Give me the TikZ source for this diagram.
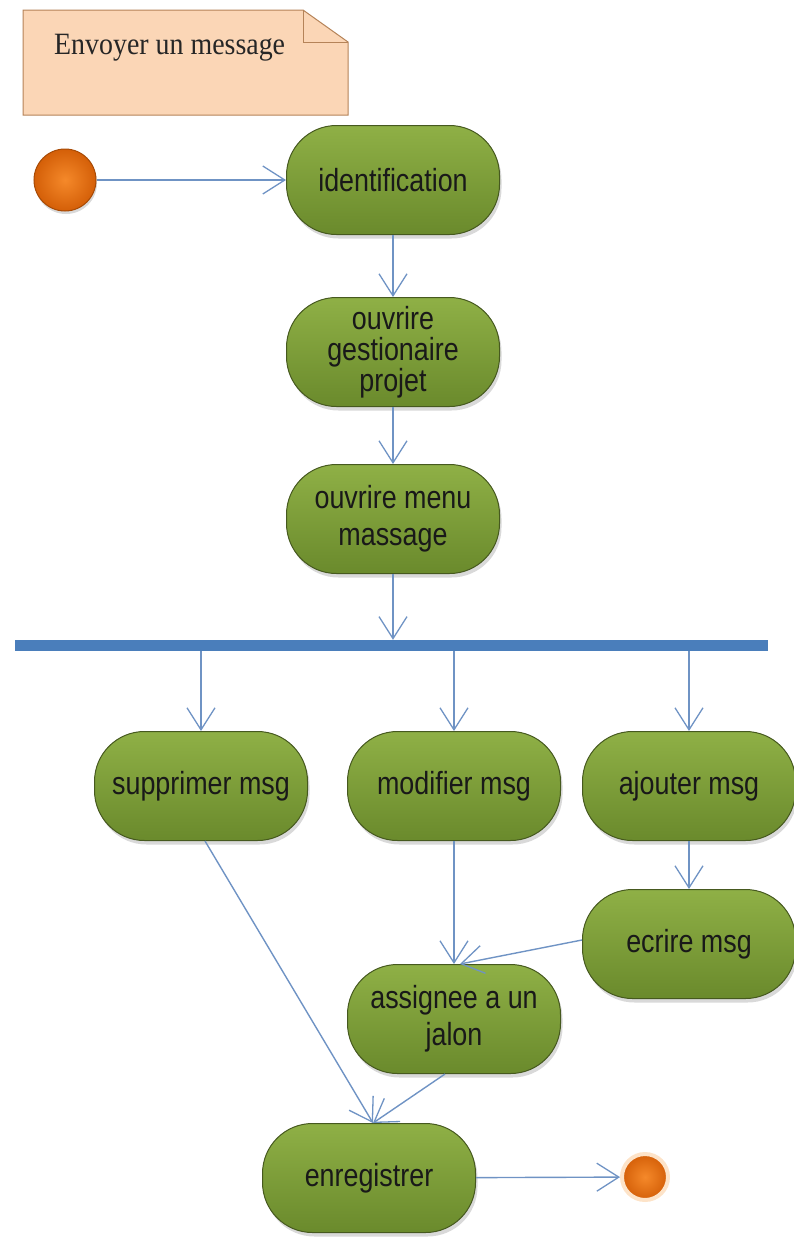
\documentclass[tikz,border=0pt]{standalone}
\usepackage{fontspec}
\setmainfont{Liberation Sans}
\newfontfamily\notefont{Liberation Serif}[FakeStretch=0.9]
\newfontfamily\actfont{Liberation Sans}[FakeStretch=0.84]
\usetikzlibrary{arrows.meta,shadows,shapes.misc}
\definecolor{flowblue}{HTML}{6F93C4}
\definecolor{barblue}{HTML}{4A7EBB}
\definecolor{greentop}{HTML}{8FB046}
\definecolor{greenbot}{HTML}{6A8A2C}
\definecolor{greenedge}{HTML}{46591F}
\definecolor{notefill}{HTML}{FBD6B6}
\definecolor{noteedge}{HTML}{B58358}
\definecolor{orangein}{HTML}{F5892A}
\definecolor{orangeout}{HTML}{D45F08}
\definecolor{orangeedge}{HTML}{A84B06}
\definecolor{halo}{HTML}{FDE3C8}
\tikzset{
  act/.style={rectangle, rounded corners=50pt, draw=greenedge, line width=1pt,
    top color=greentop, bottom color=greenbot, minimum width=213pt, minimum height=109pt,
    align=center, text=black!90, font=\actfont\fontsize{32}{37}\selectfont,
    drop shadow={shadow xshift=2pt, shadow yshift=-4pt, opacity=0.3, fill=black!50}},
  flow/.style={draw=flowblue, line width=1.4pt, -{Straight Barb[length=22pt,width=28pt,line width=1.3pt]}},
  startdot/.style={circle, inner color=orangein, outer color=orangeout, draw=orangeedge, line width=1pt,
    minimum size=62pt, inner sep=0pt,
    drop shadow={shadow xshift=1pt, shadow yshift=-3pt, opacity=0.3, fill=black!50}},
  enddot/.style={circle, inner color=orangein, outer color=orangeout, draw=halo, line width=4pt,
    minimum size=46pt, inner sep=0pt},
  forkbar/.style={rectangle, fill=barblue, minimum width=753pt, minimum height=11pt, inner sep=0pt}
}
\begin{document}
\begin{tikzpicture}[x=1pt,y=-1pt]
\useasboundingbox (0,0) rectangle (793,1237);
% note
\draw[fill=notefill, draw=noteedge, line width=1pt]
  (23,10) -- (303,10) -- (348,42) -- (348,115) -- (23,115) -- cycle;
\draw[draw=noteedge, line width=1pt] (303,10) -- (303,42) -- (348,42);
\node[anchor=west, font=\notefont\fontsize{31}{34}\selectfont, text=black!85, inner sep=0pt] (note) at (54,48) {Envoyer un message};
% nodes
\node[startdot] (start) at (65,180) {};
\node[act] (ident) at (393,180) {identification};
\node[act, font=\actfont\fontsize{32}{31}\selectfont] (gest) at (393,352) {ouvrire\\gestionaire\\projet};
\node[act] (menu) at (393,519) {ouvrire menu\\massage};
\node[forkbar] (bar) at (391.5,645.5) {};
\node[act] (supp) at (201,786) {supprimer msg};
\node[act] (modif) at (454,786) {modifier msg};
\node[act] (ajout) at (689,786) {ajouter msg};
\node[act] (ecrire) at (689,944) {ecrire msg};
\node[act] (assig) at (454,1019) {assignee a un\\jalon};
\node[act] (enreg) at (369,1178) {enregistrer};
\node[enddot] (final) at (645,1177) {};
% connectors
\draw[flow] (start) -- (ident);
\draw[flow] (ident.south) -- (ident.south |- gest.north);
\draw[flow] (gest.south) -- (gest.south |- menu.north);
\draw[flow] (menu.south) -- (menu.south |- bar.north);
\draw[flow] (bar.south -| supp.north) -- (supp.north);
\draw[flow] (bar.south -| modif.north) -- (modif.north);
\draw[flow] (bar.south -| ajout.north) -- (ajout.north);
\draw[flow] (ajout) -- (ecrire);
\draw[flow] (modif) -- (assig);
\draw[flow] ([yshift=4pt]ecrire.west) -- ([xshift=6pt]assig.north);
\draw[flow] ([xshift=4pt]supp.south) -- ([xshift=4pt]enreg.north);
\draw[flow] ([xshift=-9pt]assig.south) -- ([xshift=4pt]enreg.north);
\draw[flow] (enreg) -- (final);
\end{tikzpicture}
\end{document}
